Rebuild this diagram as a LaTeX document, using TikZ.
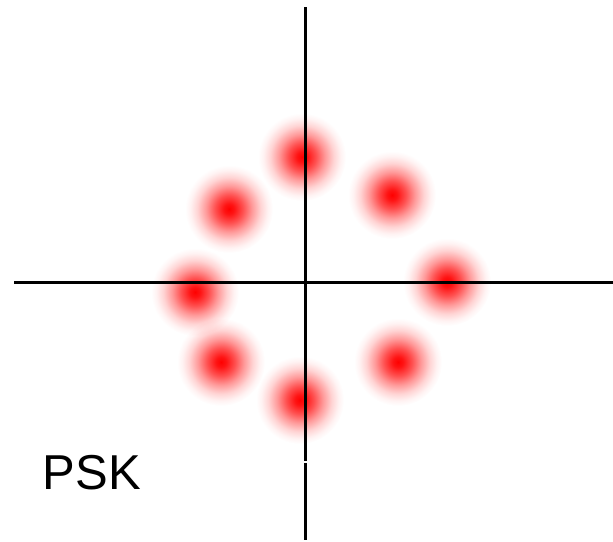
\documentclass[tikz,border=0pt]{standalone}
\usepackage{fontspec}
\setmainfont{Liberation Sans}
\pgfdeclareradialshading{redglow}{\pgfpoint{0bp}{0bp}}{color(0bp)=(red); color(3bp)=(red!92); color(8bp)=(red!68); color(13bp)=(red!40); color(18bp)=(red!17); color(22bp)=(red!5); color(25bp)=(white); color(50bp)=(white)}
\tikzset{pskfig/.style={x=1pt,y=-1pt},
  symb/.style={circle,minimum size=88pt,inner sep=0pt,shading=redglow},
  axis/.style={line width=3pt}}

\begin{document}
\begin{tikzpicture}[pskfig]
    \useasboundingbox (0,0) rectangle (613,541);
    % constellation points
    \begin{scope}[blend mode=multiply]
    \foreach \px/\py [count=\i] in {302/157,392/195,447/282,398/362,300/400,221/362,195/292,229/209}
      \node[symb] (s\i) at (\px,\py) {};
    \end{scope}
    % axes
    \coordinate (xl) at (14,282);  \coordinate (xr) at (613,282);
    \coordinate (yt) at (305,7);   \coordinate (yb) at (305,540);
    \coordinate (yg1) at (305,461); \coordinate (yg2) at (305,463);
    \draw[axis] (xl) -- (xr);
    \draw[axis] (yt) -- (yg1);
    \draw[axis] (yg2) -- (yb);
    \node[font=\fontsize{49}{55}\selectfont] (lbl) at (92,473) {PSK};
\end{tikzpicture}
\end{document}
